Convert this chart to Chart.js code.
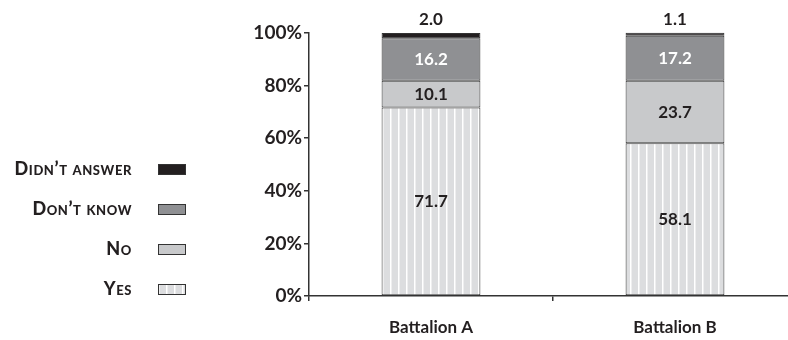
<!DOCTYPE html>
<html lang="en">
<head>
    <meta charset="UTF-8">
    <title>Battalion survey</title>
    <script src="https://cdn.jsdelivr.net/npm/chart.js"></script>
    <style>
        html, body {
            margin: 0;
            padding: 0;
            background: #ffffff;
            overflow: hidden;
        }
        .chart-container {
            position: relative;
            width: 797px;
            height: 340px;
        }
    </style>
</head>
<body>
    <div class="chart-container">
        <canvas id="surveyChart"></canvas>
    </div>

    <script>
        const categories = ['Battalion A', 'Battalion B'];
        const yesValues = [71.7, 58.1];
        const noValues = [10.1, 23.7];
        const dontKnowValues = [16.2, 17.2];
        const didntAnswerValues = [2.0, 1.1];
        const yTicks = [0, 20, 40, 60, 80, 100];

        const FONT = 'Lato, "Open Sans", sans-serif';
        const ink = '#231f20';

        // light grey with thin white vertical stripes
        function stripePattern() {
            const c = document.createElement('canvas');
            c.width = 8;
            c.height = 8;
            const p = c.getContext('2d');
            p.fillStyle = '#dcdddf';
            p.fillRect(0, 0, 8, 8);
            p.fillStyle = '#ffffff';
            p.fillRect(6, 0, 1.5, 8);
            return p.createPattern(c, 'repeat');
        }

        const ctx = document.getElementById('surveyChart').getContext('2d');
        const stripes = stripePattern();

        const series = [
            { label: 'Yes', data: yesValues, fill: stripes, text: ink },
            { label: 'No', data: noValues, fill: '#c8c9cb', text: ink },
            { label: 'Don\u2019t know', data: dontKnowValues, fill: '#8f9093', text: '#ffffff' },
            { label: 'Didn\u2019t answer', data: didntAnswerValues, fill: '#231f20', text: ink }
        ];

        const valueLabels = {
            id: 'valueLabels',
            afterDatasetsDraw(chart) {
                const c = chart.ctx;
                c.save();
                c.font = 'bold 17px ' + FONT;
                c.textAlign = 'center';
                c.textBaseline = 'middle';
                chart.data.datasets.forEach((ds, di) => {
                    chart.getDatasetMeta(di).data.forEach((bar, i) => {
                        const v = ds.data[i];
                        c.fillStyle = series[di].text;
                        if (di === series.length - 1) {
                            c.fillText(v.toFixed(1), bar.x, bar.y - 13);
                        } else {
                            c.fillText(v.toFixed(1), bar.x, (bar.y + bar.base) / 2);
                        }
                    });
                });
                c.restore();
            }
        };

        const sideLegend = {
            id: 'sideLegend',
            afterDraw(chart) {
                const c = chart.ctx;
                c.save();
                c.font = 'small-caps 900 18px ' + FONT;
                c.letterSpacing = '0.6px';
                c.textAlign = 'right';
                c.textBaseline = 'middle';
                const rows = [...series].reverse();
                rows.forEach((s, i) => {
                    const y = 169 + i * 40;
                    c.fillStyle = ink;
                    c.fillText(s.label, 132, y);
                    c.fillStyle = s.fill;
                    c.fillRect(158, y - 5, 28, 11);
                    c.strokeStyle = '#333333';
                    c.lineWidth = 1;
                    c.strokeRect(158.5, y - 4.5, 27, 10);
                });
                c.restore();
            }
        };

        new Chart(ctx, {
            type: 'bar',
            data: {
                labels: categories,
                datasets: series.map(s => ({
                    label: s.label,
                    data: s.data,
                    backgroundColor: s.fill,
                    borderColor: '#333333',
                    borderWidth: 1,
                    borderSkipped: false,
                    barPercentage: 0.405,
                    categoryPercentage: 1,
                    clip: false
                }))
            },
            options: {
                responsive: true,
                maintainAspectRatio: false,
                animation: false,
                layout: { padding: { top: 33, right: 0, bottom: 0, left: 0 } },
                plugins: {
                    legend: { display: false },
                    tooltip: { enabled: false }
                },
                scales: {
                    x: {
                        stacked: true,
                        afterFit(scale) { scale.height = 44; },
                        grid: {
                            drawOnChartArea: false,
                            tickLength: 5,
                            color: '#333333',
                            lineWidth: 1.5
                        },
                        border: { color: '#333333', width: 1.5 },
                        ticks: {
                            color: ink,
                            padding: 16,
                            font: { family: FONT, size: 17, weight: 'bold' }
                        }
                    },
                    y: {
                        stacked: true,
                        min: 0,
                        max: 100,
                        afterFit(scale) { scale.width = 309; },
                        afterBuildTicks(scale) {
                            scale.ticks = yTicks.map(v => ({ value: v }));
                        },
                        grid: {
                            drawOnChartArea: false,
                            tickLength: 5,
                            color: '#333333',
                            lineWidth: 1.5
                        },
                        border: { color: '#333333', width: 1.5 },
                        ticks: {
                            color: ink,
                            padding: 2,
                            font: { family: FONT, size: 19, weight: 'bold' },
                            callback: v => v + '%'
                        }
                    }
                }
            },
            plugins: [valueLabels, sideLegend]
        });
    </script>
</body>
</html>
